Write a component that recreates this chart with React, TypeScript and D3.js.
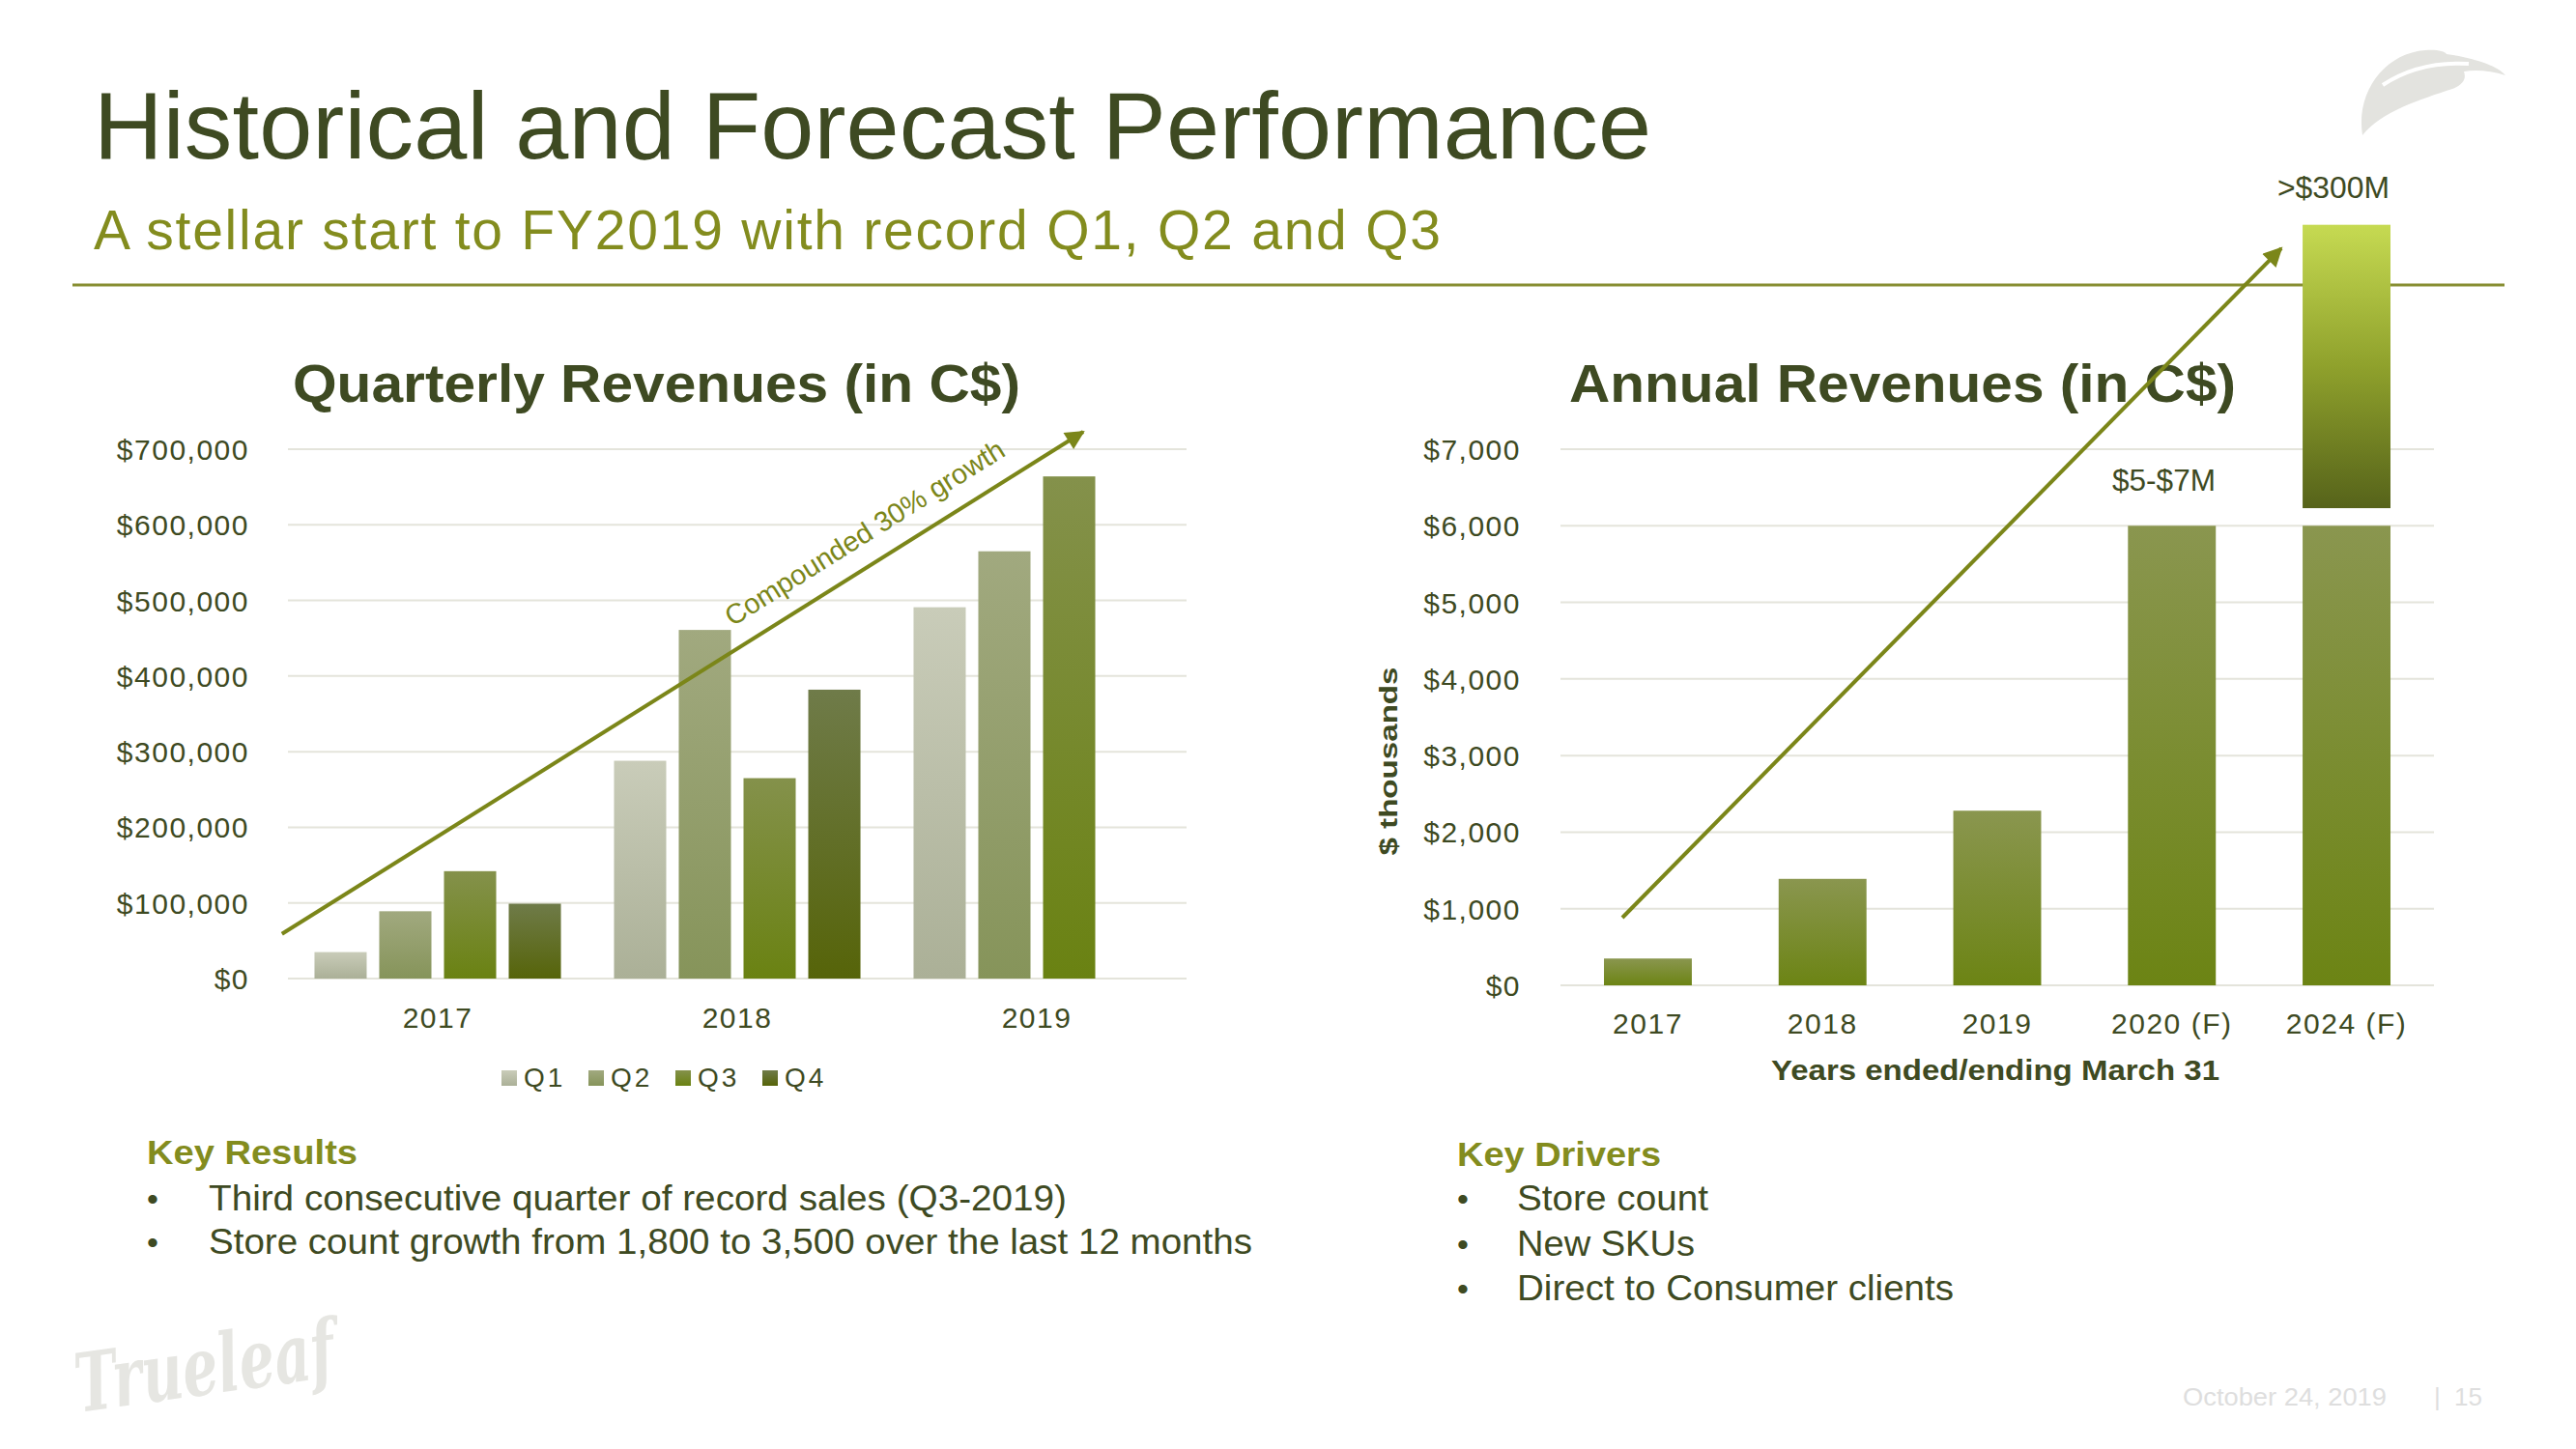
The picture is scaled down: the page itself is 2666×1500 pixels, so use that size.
import React from "react";
import * as d3 from "d3";

// ---------- data ----------
const quarterYears = ["2017", "2018", "2019"];
const quarters = ["Q1", "Q2", "Q3", "Q4"];
const q1Values = [35000, 288000, 491000];
const q2Values = [89000, 461000, 565000];
const q3Values = [142000, 265000, 664000];
const q4Values: (number | null)[] = [99000, 382000, null];
const quarterTicks = [0, 100000, 200000, 300000, 400000, 500000, 600000, 700000];

const annualYears = ["2017", "2018", "2019", "2020 (F)", "2024 (F)"];
const annualValues = [350, 1390, 2280, 6000, 6000];
const annualTicks = [0, 1000, 2000, 3000, 4000, 5000, 6000, 7000];
const brokenBarRange = [6230, 9930]; // the ">$300M" segment above the break

const quarterArrow = { from: [-0.02, 59000], to: [2.655, 723000] };
const quarterArrowLabel = { at: [1.484, 465000], text: "Compounded 30% growth" };
const annualArrow = { from: [0.354, 883], to: [4.126, 9623] };

const keyResults = [
  "Third consecutive quarter of record sales (Q3-2019)",
  "Store count growth from 1,800 to 3,500 over the last 12 months",
];
const keyResultWidths = [888, 1080];
const keyDrivers = ["Store count", "New SKUs", "Direct to Consumer clients"];
const keyDriverWidths = [198, 184, 452];

// ---------- styles ----------
const FONT = "'Liberation Sans', Arial, sans-serif";
const DARK = "#3e4a22";
const OLIVE = "#838c1e";
const ARROW = "#7b8619";
const GRID = "#e4e4db";

const qGrad: Record<string, [string, string]> = {
  Q1: ["#c9ccb9", "#abb097"],
  Q2: ["#a1a97f", "#86945a"],
  Q3: ["#84914b", "#6a8212"],
  Q4: ["#6f7b49", "#566409"],
};

export default function App() {
  // left chart scales
  const lx = d3.scaleBand<string>().domain(quarterYears).range([298, 1228]);
  const lxi = d3.scaleBand<string>().domain(quarters).range([0, lx.bandwidth()]).paddingInner(0.194).paddingOuter(0.41);
  const ly = d3.scaleLinear().domain([0, 700000]).range([1013, 465]);
  const lIdx = d3.scaleLinear().domain([0, 3]).range([298, 1228]);
  const fmtL = (v: number) => "$" + d3.format(",")(v);

  const qSeries: Record<string, (number | null)[]> = { Q1: q1Values, Q2: q2Values, Q3: q3Values, Q4: q4Values };

  // right chart scales
  const rx = d3.scaleBand<string>().domain(annualYears).range([1615, 2519]).paddingInner(0.497).paddingOuter(0.249);
  const ry = d3.scaleLinear().domain([0, 7000]).range([1020, 465]);
  const rIdx = d3.scaleLinear().domain([0, 5]).range([1615, 2519]);

  const la1 = [lIdx(quarterArrow.from[0]), ly(quarterArrow.from[1])];
  const la2 = [lIdx(quarterArrow.to[0]), ly(quarterArrow.to[1])];
  const ra1 = [rIdx(annualArrow.from[0]), ry(annualArrow.from[1])];
  const ra2 = [rIdx(annualArrow.to[0]), ry(annualArrow.to[1])];
  const lAngle = (Math.atan2(la2[1] - la1[1], la2[0] - la1[0]) * 180) / Math.PI;

  return (
    <div style={{ position: "absolute", left: 0, top: 0 }}>
      <svg width={2666} height={1500} style={{ display: "block", background: "#fff" }} fontFamily={FONT}>
        <defs>
          {quarters.map((q) => (
            <linearGradient key={q} id={"g" + q} x1="0" y1="0" x2="0" y2="1">
              <stop offset="0" stopColor={qGrad[q][0]} />
              <stop offset="1" stopColor={qGrad[q][1]} />
            </linearGradient>
          ))}
          <linearGradient id="gAnnual" x1="0" y1="0" x2="0" y2="1">
            <stop offset="0" stopColor="#8a964f" />
            <stop offset="1" stopColor="#6c8414" />
          </linearGradient>
          <linearGradient id="gBreak" x1="0" y1="0" x2="0" y2="1">
            <stop offset="0" stopColor="#c6da52" />
            <stop offset="0.5" stopColor="#8fa12c" />
            <stop offset="1" stopColor="#56631a" />
          </linearGradient>
          <marker id="arrowHead" viewBox="0 0 10 10" refX="9" refY="5" markerWidth="6" markerHeight="5" orient="auto" markerUnits="strokeWidth">
            <path d="M0,0 L10,5 L0,10 Z" fill={ARROW} />
          </marker>
        </defs>

        {/* header */}
        <text x={97} y={164} fontSize={99} fill={DARK} textLength={1612} lengthAdjust="spacing">
          Historical and Forecast Performance
        </text>
        <text x={97} y={258} fontSize={57} fill={OLIVE} textLength={1394} lengthAdjust="spacing">
          A stellar start to FY2019 with record Q1, Q2 and Q3
        </text>
        <line x1={75} x2={2592} y1={295} y2={295} stroke="#878e32" strokeWidth={3} />

        {/* leaf logo top right */}
        <path
          d="M2445,140 C2438,95 2468,55 2510,52 C2522,51 2530,53 2532,56 C2560,60 2585,68 2593,78 C2578,73 2562,72 2550,74 C2553,83 2548,88 2538,92 C2505,103 2465,115 2445,140 Z"
          fill="#e3e3df"
        />
        <path d="M2466,88 C2490,72 2520,64 2555,66" fill="none" stroke="#fff" strokeWidth={4} />

        {/* ---------- left chart ---------- */}
        <text x={303} y={416} fontSize={56} fontWeight="bold" fill={DARK} textLength={753} lengthAdjust="spacingAndGlyphs">
          Quarterly Revenues (in C$)
        </text>
        {quarterTicks.map((t) => (
          <g key={t}>
            <line x1={298} x2={1228} y1={ly(t)} y2={ly(t)} stroke={GRID} strokeWidth={2} />
            <text x={258} y={ly(t) + 11} fontSize={30} letterSpacing={1.5} textAnchor="end" fill={DARK}>
              {fmtL(t)}
            </text>
          </g>
        ))}
        {quarterYears.map((yr, i) => (
          <g key={yr}>
            {quarters.map((q) => {
              const v = qSeries[q][i];
              if (v == null) return null;
              return (
                <rect
                  key={q}
                  x={(lx(yr) as number) + (lxi(q) as number)}
                  y={ly(v)}
                  width={lxi.bandwidth()}
                  height={ly(0) - ly(v)}
                  fill={`url(#g${q})`}
                />
              );
            })}
            <text x={(lx(yr) as number) + lx.bandwidth() / 2} y={1064} fontSize={30} letterSpacing={1.5} textAnchor="middle" fill={DARK}>
              {yr}
            </text>
          </g>
        ))}
        {/* legend */}
        {quarters.map((q, i) => (
          <g key={q}>
            <rect x={519 + i * 90} y={1108} width={16} height={16} fill={`url(#g${q})`} />
            <text x={542 + i * 90} y={1125} fontSize={28} letterSpacing={3} fill={DARK}>
              {q}
            </text>
          </g>
        ))}
        <line x1={la1[0]} y1={la1[1]} x2={la2[0]} y2={la2[1]} stroke={ARROW} strokeWidth={4} markerEnd="url(#arrowHead)" />
        <text
          transform={`translate(${lIdx(quarterArrowLabel.at[0])},${ly(quarterArrowLabel.at[1])}) rotate(${lAngle})`}
          fontSize={29}
          fill={ARROW}
        >
          {quarterArrowLabel.text}
        </text>

        {/* ---------- right chart ---------- */}
        {annualTicks.map((t) => (
          <g key={t}>
            <line x1={1615} x2={2519} y1={ry(t)} y2={ry(t)} stroke={GRID} strokeWidth={2} />
            <text x={1574} y={ry(t) + 11} fontSize={30} letterSpacing={1.5} textAnchor="end" fill={DARK}>
              {"$" + d3.format(",")(t)}
            </text>
          </g>
        ))}
        {annualYears.map((yr, i) => (
          <g key={yr}>
            <rect
              x={rx(yr) as number}
              y={ry(annualValues[i])}
              width={rx.bandwidth()}
              height={ry(0) - ry(annualValues[i])}
              fill="url(#gAnnual)"
            />
            <text x={(rx(yr) as number) + rx.bandwidth() / 2} y={1070} fontSize={30} letterSpacing={1.5} textAnchor="middle" fill={DARK}>
              {yr}
            </text>
          </g>
        ))}
        <text x={2065} y={1118} fontSize={29} fontWeight="bold" textAnchor="middle" fill={DARK} textLength={464} lengthAdjust="spacingAndGlyphs">
          Years ended/ending March 31
        </text>
        <text
          transform="translate(1446,788) rotate(-90)"
          fontSize={26}
          fontWeight="bold"
          textAnchor="middle"
          fill={DARK}
          textLength={195}
          lengthAdjust="spacingAndGlyphs"
        >
          $ thousands
        </text>
        <text x={1624} y={416} fontSize={56} fontWeight="bold" fill={DARK} textLength={690} lengthAdjust="spacingAndGlyphs">
          Annual Revenues (in C$)
        </text>
        <line x1={ra1[0]} y1={ra1[1]} x2={ra2[0]} y2={ra2[1]} stroke={ARROW} strokeWidth={4} markerEnd="url(#arrowHead)" />
        {/* broken top segment of the 2024 bar */}
        <rect
          x={rx("2024 (F)") as number}
          y={ry(brokenBarRange[1])}
          width={rx.bandwidth()}
          height={ry(brokenBarRange[0]) - ry(brokenBarRange[1])}
          fill="url(#gBreak)"
        />
        <text x={2357} y={205} fontSize={31} fill={DARK} textLength={116} lengthAdjust="spacingAndGlyphs">
          &gt;$300M
        </text>
        <text x={2186} y={508} fontSize={31} fill={DARK} textLength={107} lengthAdjust="spacingAndGlyphs">
          $5-$7M
        </text>

        {/* ---------- key results / drivers ---------- */}
        <text x={152} y={1205} fontSize={35} fontWeight="bold" fill={OLIVE} textLength={218} lengthAdjust="spacingAndGlyphs">
          Key Results
        </text>
        {keyResults.map((t, i) => (
          <g key={t}>
            <text x={152} y={1253 + i * 45} fontSize={34} fill={DARK}>•</text>
            <text x={216} y={1253 + i * 45} fontSize={36} fill={DARK} textLength={keyResultWidths[i]} lengthAdjust="spacingAndGlyphs">
              {t}
            </text>
          </g>
        ))}
        <text x={1508} y={1207} fontSize={35} fontWeight="bold" fill={OLIVE} textLength={211} lengthAdjust="spacingAndGlyphs">
          Key Drivers
        </text>
        {keyDrivers.map((t, i) => (
          <g key={t}>
            <text x={1508} y={1253 + i * 46.5} fontSize={34} fill={DARK}>•</text>
            <text x={1570} y={1253 + i * 46.5} fontSize={36} fill={DARK} textLength={keyDriverWidths[i]} lengthAdjust="spacingAndGlyphs">
              {t}
            </text>
          </g>
        ))}

        {/* footer */}
        <text x={2259} y={1455} fontSize={26} fill="#dedede" textLength={211} lengthAdjust="spacingAndGlyphs">
          October 24, 2019
        </text>
        <text x={2519} y={1455} fontSize={26} fill="#dedede">|</text>
        <text x={2540} y={1455} fontSize={26} fill="#dedede">15</text>

        {/* Trueleaf wordmark */}
        <text
          transform="translate(82,1462) rotate(-8)"
          fontFamily="'DejaVu Serif', serif"
          fontStyle="italic"
          fontWeight="bold"
          fontSize={84}
          fill="#e6e6e2"
          textLength={270}
          lengthAdjust="spacingAndGlyphs"
        >
          Trueleaf
        </text>
      </svg>
    </div>
  );
}
